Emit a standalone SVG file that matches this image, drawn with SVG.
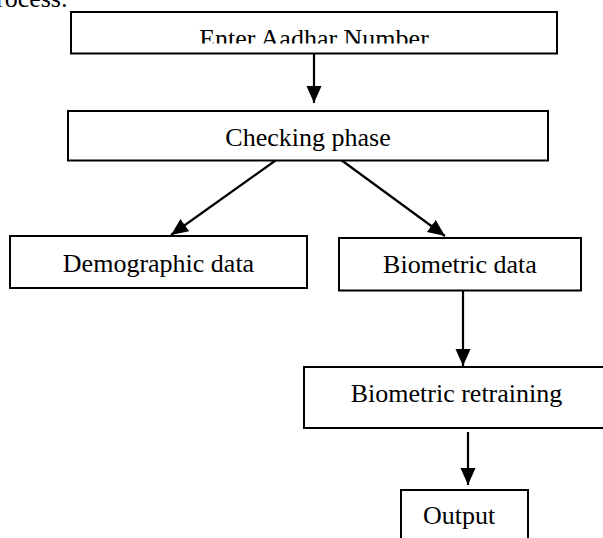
<svg xmlns="http://www.w3.org/2000/svg" width="603" height="538" viewBox="0 0 603 538">
  <style>
    .box { fill: #ffffff; stroke: #000000; stroke-width: 2; }
    .lbl { font-family: "Liberation Serif", "Times New Roman", serif; font-size: 26px; fill: #000000; text-anchor: middle; }
    .edge { fill: none; stroke: #000000; stroke-width: 2.2; marker-end: url(#arrow); }
  </style>
  <defs>
    <marker id="arrow" markerUnits="userSpaceOnUse" markerWidth="18" markerHeight="16" viewBox="0 0 18 16" refX="17" refY="8" orient="auto">
      <path d="M0,0.5 L17,8 L0,15.5 Z" fill="#000000"/>
    </marker>
    <clipPath id="clipTop">
      <rect x="0" y="0" width="603" height="43.5"/>
    </clipPath>
  </defs>
  <rect x="0" y="0" width="603" height="538" fill="#ffffff"/>

  <text class="lbl" x="-4" y="7" style="text-anchor:start">rocess.</text>

  <g id="connectors">
    <line class="edge" x1="314" y1="54" x2="314" y2="103"/>
    <line class="edge" x1="286" y1="153" x2="171" y2="235"/>
    <line class="edge" x1="333" y1="154" x2="445" y2="236"/>
    <line class="edge" x1="463" y1="291" x2="463" y2="366"/>
    <line class="edge" x1="468" y1="432" x2="468" y2="485"/>
  </g>

  <g id="enter">
    <rect class="box" x="71" y="12" width="486" height="41.5"/>
    <text class="lbl" x="314" y="47" clip-path="url(#clipTop)">Enter Aadhar Number</text>
  </g>
  <g id="checking">
    <rect class="box" x="68" y="111" width="480" height="49.5"/>
    <text class="lbl" x="308" y="146">Checking phase</text>
  </g>
  <g id="demographic">
    <rect class="box" x="10" y="236" width="297" height="52"/>
    <text class="lbl" x="158.5" y="271.5">Demographic data</text>
  </g>
  <g id="biometric">
    <rect class="box" x="339" y="238" width="242" height="52.5"/>
    <text class="lbl" x="460" y="273">Biometric data</text>
  </g>
  <g id="retraining">
    <rect class="box" x="304" y="367" width="310" height="61"/>
    <text class="lbl" x="456.5" y="402">Biometric retraining</text>
  </g>
  <g id="output">
    <rect class="box" x="401" y="490" width="127" height="60"/>
    <text class="lbl" x="459" y="524">Output</text>
  </g>
</svg>
